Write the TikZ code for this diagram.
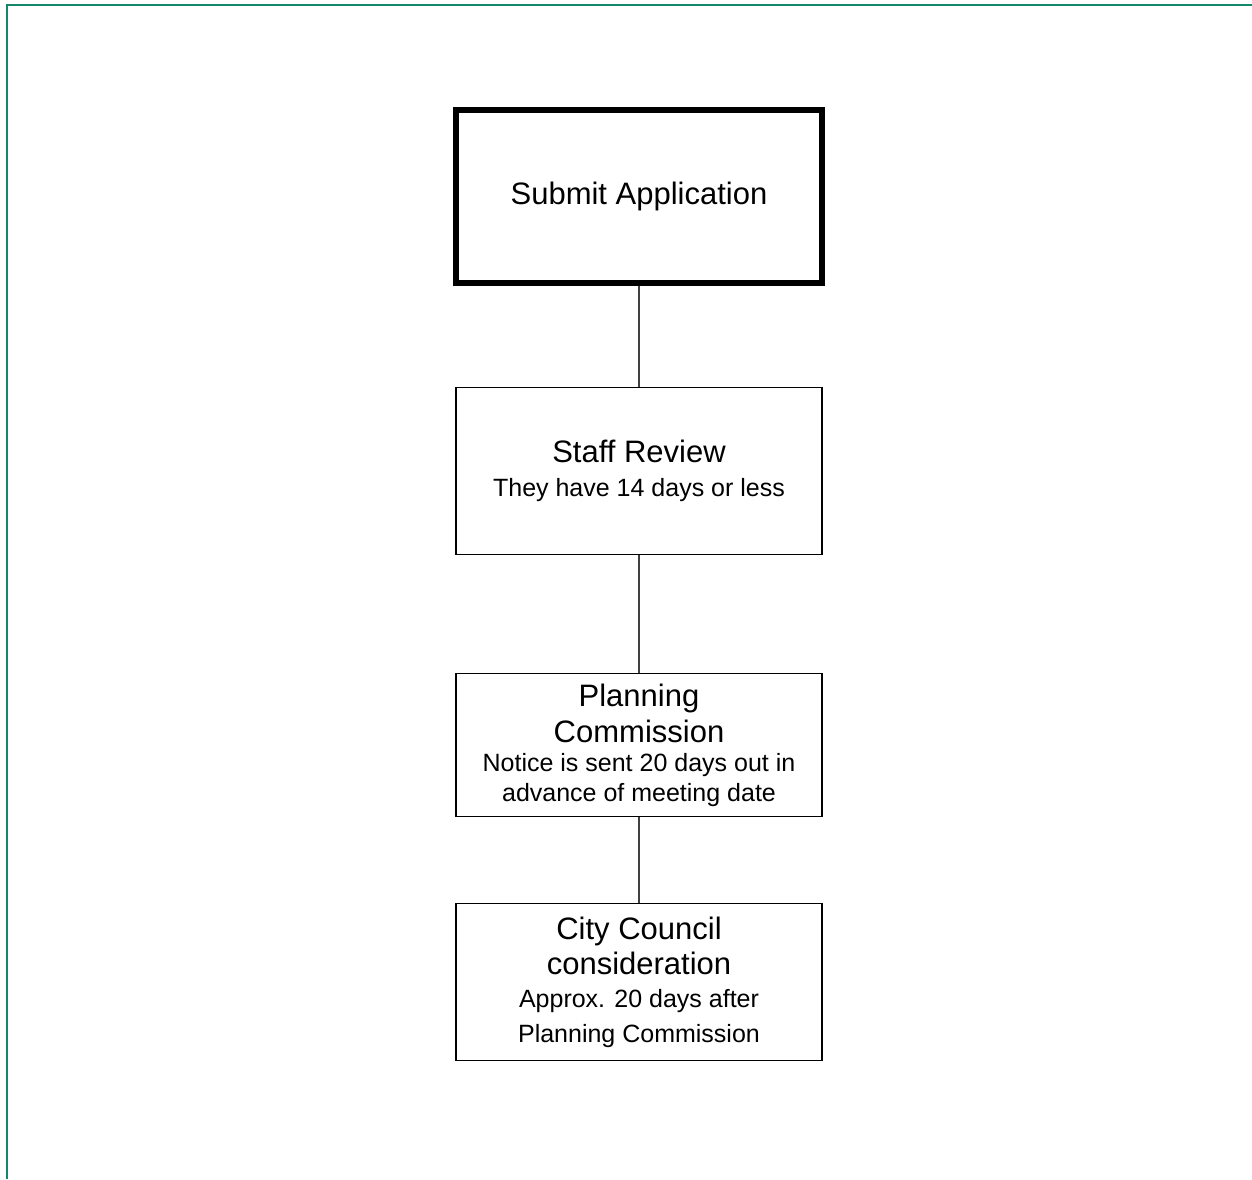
\documentclass[tikz,border=0pt]{standalone}
\usepackage{fontspec}
\setsansfont{Liberation Sans}
\usetikzlibrary{
  positioning,  % Function "of" (e.g. [below=of x])
}
\definecolor{framegreen}{RGB}{18,135,105}
\newcommand{\bigtxt}  {\fontsize{15.5}{18.5}\selectfont}
\newcommand{\smalltxt}{\fontsize{12.5}{15}\selectfont}
\def\mygapa{50.5pt}
\def\mygapb{59pt}
\def\mygapc{43pt}
\tikzset{
  font=\sffamily,
  my box/.style={
    draw,
    rectangle,
    line width=0.6pt,
    align=center,
    inner sep=1mm,
    minimum width=183pt
  },
  my box thick/.style={
    my box,
    line width=2.8pt
  },
  my link/.style={
    draw=black!75,
    line width=0.6pt
  },
  my frame/.style={
    draw=framegreen,
    line width=0.8pt
  }
}
\begin{document}
\begin{tikzpicture}[x=0.5pt,y=-0.5pt]
\useasboundingbox (0,0) rectangle (1252,1179);
\draw[my frame] (7,1179) -- (7,5) -- (1252,5);
\node[my box thick,minimum height=86.5pt] (submit) at (639,196.5)
  {\bigtxt Submit Application};
\node[my box,minimum height=83.5pt] (staff) [below=\mygapa of submit]
  {\bigtxt Staff Review\\[5pt] \smalltxt They have 14 days or less};
\node[my box,minimum height=71.5pt] (planning) [below=\mygapb of staff]
  {\bigtxt Planning\\[2.5pt] \bigtxt Commission\\[2.5pt] \smalltxt Notice is sent 20 days out in\\[3pt] \smalltxt advance of meeting date};
\node[my box,minimum height=78.5pt] (council) [below=\mygapc of planning]
  {\bigtxt City Council\\[2.5pt] \bigtxt consideration\\[4.5pt] \smalltxt Approx. 20 days after\\[5.5pt] \smalltxt Planning Commission};
\path[my link] (submit) -- (staff)
               (staff) -- (planning)
               (planning) -- (council);
\end{tikzpicture}
\end{document}
